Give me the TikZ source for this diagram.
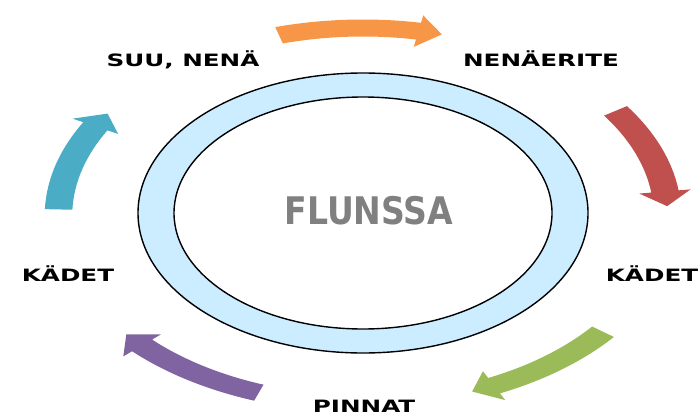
\documentclass[tikz,border=0pt]{standalone}
\usepackage{fontspec}
\usetikzlibrary{shapes.geometric}
\newfontfamily\labelfont{DejaVu Sans}[FakeStretch=1.45]
\newfontfamily\titlefont{DejaVu Sans}[FakeStretch=0.87]
\definecolor{ringblue}{RGB}{204,236,255}
\definecolor{titlegray}{RGB}{128,128,128}
\definecolor{arrorange}{RGB}{247,150,70}
\definecolor{arrred}{RGB}{192,80,77}
\definecolor{arrgreen}{RGB}{155,187,89}
\definecolor{arrpurple}{RGB}{128,100,162}
\definecolor{arrcyan}{RGB}{75,172,198}

\begin{document}
\begin{tikzpicture}[x=1pt,y=1pt]
  % Parameters
  \def\arrowrad{188}
  \def\shaftw{8.5}  % half shaft width
  \def\headw{16}    % half head width
  \def\headang{4.5} % head length, in degrees
  \def\sweep{31}    % angle of one arrow
  \def\squash{1.62} % everything is drawn wide
  \pgfmathsetmacro{\rin}{\arrowrad-\shaftw}
  \pgfmathsetmacro{\rout}{\arrowrad+\shaftw}
  \pgfmathsetmacro{\hin}{\arrowrad-\headw}
  \pgfmathsetmacro{\hout}{\arrowrad+\headw}

  \tikzset{
    steplabel/.style={font=\labelfont\bfseries\fontsize{17}{20}\selectfont, inner sep=0pt, anchor=base},
    ringline/.style={draw, line width=1.4, ellipse, inner sep=0pt}
  }

  \useasboundingbox (0,0) rectangle (700,416);

  % Ring in the middle
  \node[ringline, fill=ringblue, minimum width=450, minimum height=280] (outer) at (363,203) {};
  \node[ringline, fill=white, minimum width=378, minimum height=232] (inner) at (outer.center) {};
  \node[font=\titlefont\bfseries\fontsize{38}{40}\selectfont, text=titlegray] (flu) at (369,205) {FLUNSSA};

  % Arrows round the ring
  \coordinate (hub) at (363,200);
  \foreach \tailang/\col in {106/arrorange, 34/arrred, -38/arrgreen, -110/arrpurple, 178/arrcyan} {
    \pgfmathsetmacro{\tipang}{\tailang-\sweep}
    \pgfmathsetmacro{\baseang}{\tipang+\headang}
    \begin{scope}[shift={(hub)}, xscale=\squash]
      \fill[\col] (\tailang:\rin) arc[start angle=\tailang, end angle=\baseang, radius=\rin pt]
        -- (\baseang:\hin) -- (\tipang:\arrowrad) -- (\baseang:\hout)
        -- (\baseang:\rout) arc[start angle=\baseang, end angle=\tailang, radius=\rout pt] -- cycle;
    \end{scope}
  }

  % Labels
  \node[steplabel] (mouth) at (183,349) {SUU, NENÄ};
  \node[steplabel] (mucus) at (541,349) {NENÄERITE};
  \node[steplabel] (handsr) at (652,135) {KÄDET};
  \node[steplabel] (surf) at (364,4) {PINNAT};
  \node[steplabel] (handsl) at (68,135) {KÄDET};

\end{tikzpicture}
\end{document}
